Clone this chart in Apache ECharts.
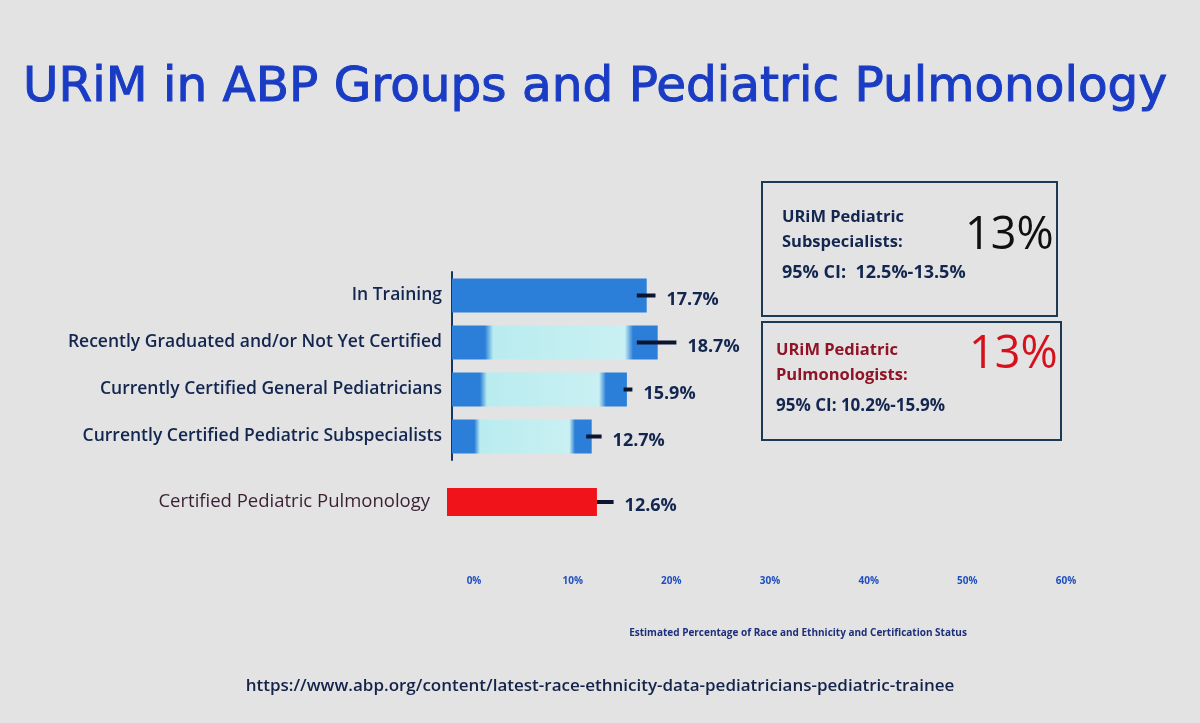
<!DOCTYPE html>
<html>
<head>
<meta charset="utf-8">
<script src="https://cdn.jsdelivr.net/npm/echarts@6/dist/echarts.min.js"></script>
<style>
  html, body { margin: 0; padding: 0; background: #e3e3e3; }
  #chart { width: 1200px; height: 723px; }
</style>
</head>
<body>
<div id="chart"></div>
<script>
// ABP groups (blue bars)
const groupNames = [
  'In Training',
  'Recently Graduated and/or Not Yet Certified',
  'Currently Certified General Pediatricians',
  'Currently Certified Pediatric Subspecialists'
];
const groupValues = [17.7, 18.7, 15.9, 12.7];
const groupLow = [16.8, 16.8, 15.6, 12.2];
const groupHigh = [18.5, 20.4, 16.4, 13.6];

// pediatric pulmonology (red bar)
const pulmNames = ['Certified Pediatric Pulmonology'];
const pulmValues = [12.6];
const pulmLow = [12.6];
const pulmHigh = [14.0];

const axisMax = 60;
const axisStep = 10;

let myChart = echarts.init(document.getElementById('chart'));

const navy = '#13264f';
const blue = '#2b7fd9';

function fadedBar(){
  return new echarts.graphic.LinearGradient(0, 0, 1, 0, [
    {offset: 0, color: blue},
    {offset: 0.16, color: blue},
    {offset: 0.2, color: '#b9ecef'},
    {offset: 0.84, color: '#c9f0f2'},
    {offset: 0.88, color: blue},
    {offset: 1, color: blue}
  ]);
}

function errorBar(){
  return function(params, api){
    let idx = api.value(0);
    let a = api.coord([api.value(1), idx]);
    let b = api.coord([api.value(2), idx]);
    return {
      type: 'group',
      children: [
        {
          type: 'line',
          shape: {x1: a[0], y1: a[1], x2: b[0], y2: b[1]},
          style: {stroke: '#0b1530', lineWidth: 4}
        },
        {
          type: 'text',
          x: b[0] + 11,
          y: a[1] + 4,
          style: {
            text: api.value(3).toFixed(1) + '%',
            fill: navy,
            font: 'bold 18px "Open Sans"',
            verticalAlign: 'middle'
          }
        }
      ]
    };
  };
}

let options = {
  backgroundColor: '#e3e3e3',
  title: {
    text: 'URiM in ABP Groups and Pediatric Pulmonology',
    left: 18,
    top: 59,
    textStyle: {
      fontFamily: 'DejaVu Sans',
      fontSize: 48.5,
      fontWeight: 'normal',
      color: '#1a3cc4',
      textBorderColor: '#1a3cc4',
      textBorderWidth: 1
    }
  },
  grid: [
    {left: 452, top: 272, height: 188, width: 660},
    {left: 447, top: 484, height: 36, width: 714},
    {left: 474, top: 560, height: 10, right: 134}
  ],
  xAxis: [
    {gridIndex: 0, type: 'value', min: 0, max: axisMax, show: false},
    {gridIndex: 1, type: 'value', min: 0, max: axisMax, show: false},
    {
      gridIndex: 2, type: 'value', min: 0, max: axisMax, interval: axisStep,
      axisLine: {show: false}, axisTick: {show: false}, splitLine: {show: false},
      axisLabel: {
        formatter: '{value}%', color: '#1f4fc0', fontSize: 10, fontWeight: 'bold',
        fontFamily: 'Open Sans', margin: 6
      },
      name: 'Estimated Percentage of Race and Ethnicity and Certification Status',
      nameLocation: 'middle',
      nameGap: 58,
      nameTextStyle: {
        color: '#1d2f7a', fontSize: 10, fontWeight: 'bold',
        fontFamily: 'Open Sans', padding: [0, 0, 0, 56]
      }
    }
  ],
  yAxis: [
    {
      gridIndex: 0, type: 'category', data: groupNames, inverse: true,
      axisLine: {show: true, lineStyle: {color: '#1c3464', width: 2}},
      axisTick: {show: false},
      axisLabel: {color: navy, fontSize: 17.5, fontWeight: 600, fontFamily: 'Open Sans', margin: 10}
    },
    {
      gridIndex: 1, type: 'category', data: pulmNames,
      axisLine: {show: false}, axisTick: {show: false},
      axisLabel: {color: '#3a1f33', fontSize: 18.5, fontFamily: 'Open Sans', margin: 17}
    },
    {gridIndex: 2, type: 'category', data: [''], show: false}
  ],
  series: [
    {
      type: 'bar',
      xAxisIndex: 0, yAxisIndex: 0,
      barWidth: 34,
      data: groupValues.map(function(v, i){
        return {value: v, itemStyle: {color: i == 0 ? blue : fadedBar()}};
      }),
      silent: true
    },
    {
      type: 'custom',
      xAxisIndex: 0, yAxisIndex: 0,
      renderItem: errorBar(),
      data: groupValues.map(function(v, i){ return [i, groupLow[i], groupHigh[i], v]; }),
      z: 5
    },
    {
      type: 'bar',
      xAxisIndex: 1, yAxisIndex: 1,
      barWidth: 28,
      itemStyle: {color: '#f0141a'},
      data: pulmValues,
      silent: true
    },
    {
      type: 'custom',
      xAxisIndex: 1, yAxisIndex: 1,
      renderItem: errorBar(),
      data: pulmValues.map(function(v, i){ return [i, pulmLow[i], pulmHigh[i], v]; }),
      z: 5
    }
  ],
  graphic: [
    {
      type: 'rect', shape: {x: 762, y: 182, width: 295, height: 134},
      style: {fill: 'none', stroke: '#1c3a55', lineWidth: 2}
    },
    {
      type: 'text', left: 782, top: 205,
      style: {text: 'URiM Pediatric\nSubspecialists:', font: 'bold 16.5px "Open Sans"', fill: navy, lineHeight: 25}
    },
    {
      type: 'text', left: 782, top: 264,
      style: {text: '95% CI:  12.5%-13.5%', font: 'bold 18px "Open Sans"', fill: navy}
    },
    {
      type: 'text', left: 965, top: 214,
      style: {text: '13%', font: '45px "Open Sans"', fill: '#101010'}
    },
    {
      type: 'rect', shape: {x: 762, y: 322, width: 299, height: 118},
      style: {fill: 'none', stroke: '#1c3a55', lineWidth: 2}
    },
    {
      type: 'text', left: 776, top: 338,
      style: {text: 'URiM Pediatric\nPulmonologists:', font: 'bold 16.5px "Open Sans"', fill: '#8e1426', lineHeight: 25}
    },
    {
      type: 'text', left: 776, top: 398,
      style: {text: '95% CI: 10.2%-15.9%', font: 'bold 17px "Open Sans"', fill: navy}
    },
    {
      type: 'text', left: 969, top: 333,
      style: {text: '13%', font: '45px "Open Sans"', fill: '#d8101c'}
    },
    {
      type: 'text', left: 'center', top: 678,
      style: {text: 'https://www.abp.org/content/latest-race-ethnicity-data-pediatricians-pediatric-trainee',
        font: '600 17px "Open Sans"', fill: '#14234a'}
    }
  ]
};

myChart.setOption(options);
</script>
</body>
</html>
